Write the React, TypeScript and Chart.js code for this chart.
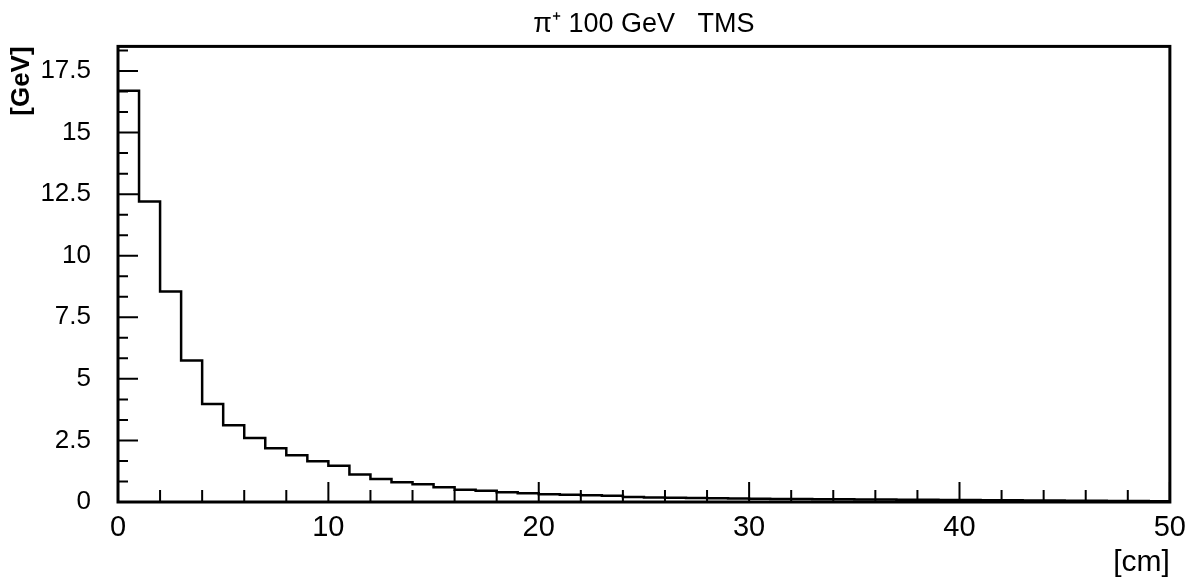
import React, { useEffect, useRef } from "react";
import { Chart, registerables } from "chart.js";

Chart.register(...registerables);

// Bin start positions in cm (bins are 1 cm wide)
const binStarts = [
  0, 1, 2, 3, 4, 5, 6, 7, 8, 9,
  10, 11, 12, 13, 14, 15, 16, 17, 18, 19,
  20, 21, 22, 23, 24, 25, 26, 27, 28, 29,
  30, 31, 32, 33, 34, 35, 36, 37, 38, 39,
  40, 41, 42, 43, 44, 45, 46, 47, 48, 49,
];
// Deposited energy per bin in GeV
const energy = [
  16.7, 12.2, 8.55, 5.75, 3.98, 3.12, 2.6, 2.18, 1.9, 1.65,
  1.47, 1.12, 0.93, 0.8, 0.72, 0.6, 0.5, 0.46, 0.4, 0.36,
  0.31, 0.29, 0.27, 0.25, 0.2, 0.18, 0.17, 0.16, 0.15, 0.14,
  0.13, 0.12, 0.12, 0.11, 0.11, 0.1, 0.1, 0.09, 0.09, 0.08,
  0.08, 0.07, 0.07, 0.06, 0.06, 0.05, 0.05, 0.04, 0.04, 0.03,
];
const binWidth = 1;

const xTicks = [0, 10, 20, 30, 40, 50];
const yTicks = [0, 2.5, 5, 7.5, 10, 12.5, 15, 17.5];
const xMinorStep = 2;
const yMinorStep = 2.5 / 3;

const titleText = "\u03c0\u207a 100 GeV   TMS";
const xTitle = "[cm]";
const yTitle = "[GeV]";

const FONT = "'Liberation Sans', Arial, Helvetica, sans-serif";

const framePlugin = {
  id: "frameAndInnerTicks",
  afterDraw(chart: any) {
    const { ctx, chartArea } = chart;
    const { left, right, top, bottom } = chartArea;
    const xs = chart.scales.x;
    const ys = chart.scales.y;
    ctx.save();
    ctx.strokeStyle = "#000";
    ctx.lineWidth = 3;
    ctx.strokeRect(left, top, right - left, bottom - top);
    ctx.lineWidth = 2;
    ctx.beginPath();
    for (let k = 0; k * xMinorStep <= xs.max + 1e-9; k++) {
      const v = k * xMinorStep;
      const px = xs.getPixelForValue(v);
      const major = xTicks.includes(v);
      const len = major ? 20 : 12;
      ctx.moveTo(px, bottom);
      ctx.lineTo(px, bottom - len);
    }
    for (let k = 0; k * yMinorStep <= ys.max + 1e-9; k++) {
      const v = k * yMinorStep;
      const py = ys.getPixelForValue(v);
      const major = k % 3 === 0;
      const len = major ? 20 : 10;
      ctx.moveTo(left, py);
      ctx.lineTo(left + len, py);
    }
    ctx.stroke();
    ctx.restore();
  },
};

export default function App() {
  const ref = useRef<HTMLCanvasElement | null>(null);

  useEffect(() => {
    if (!ref.current) return;
    const points = binStarts.map((x, i) => ({ x, y: energy[i] }));
    points.push({
      x: binStarts[binStarts.length - 1] + binWidth,
      y: energy[energy.length - 1],
    });

    const chart = new Chart(ref.current, {
      type: "line",
      data: {
        datasets: [
          {
            data: points,
            stepped: "before",
            borderColor: "#000",
            borderWidth: 2.5,
            pointRadius: 0,
            fill: false,
          },
        ],
      },
      options: {
        animation: false,
        responsive: true,
        maintainAspectRatio: false,
        layout: { padding: { left: 0, right: 23, top: 0, bottom: 0 } },
        plugins: {
          legend: { display: false },
          tooltip: { enabled: false },
          title: {
            display: true,
            text: titleText,
            fullSize: false,
            color: "#000",
            font: { family: FONT, size: 27, weight: "normal" },
            padding: { top: 8, bottom: 6 },
          },
        },
        scales: {
          x: {
            type: "linear",
            min: 0,
            max: 50,
            afterBuildTicks: (s: any) => {
              s.ticks = xTicks.map((v) => ({ value: v }));
            },
            afterFit: (s: any) => {
              s.height = 79;
            },
            grid: { display: false, drawTicks: false },
            border: { display: false },
            ticks: {
              color: "#000",
              padding: 9,
              maxRotation: 0,
              font: { family: FONT, size: 29 },
              callback: (v: any) => String(v),
            },
            title: {
              display: true,
              text: xTitle,
              align: "end",
              color: "#000",
              font: { family: FONT, size: 30 },
              padding: { top: 0, bottom: 0 },
            },
          },
          y: {
            type: "linear",
            min: 0,
            max: 18.5,
            afterBuildTicks: (s: any) => {
              s.ticks = yTicks.map((v) => ({ value: v }));
            },
            afterFit: (s: any) => {
              s.width = 118;
            },
            grid: { display: false, drawTicks: false },
            border: { display: false },
            ticks: {
              color: "#000",
              padding: 27,
              font: { family: FONT, size: 26 },
              callback: (v: any) => String(v),
            },
            title: {
              display: true,
              text: yTitle,
              align: "end",
              color: "#000",
              font: { family: FONT, size: 26, weight: "bold" },
              padding: { top: 6, bottom: 0 },
            },
          },
        },
      },
      plugins: [framePlugin],
    });
    return () => chart.destroy();
  }, []);

  return (
    <div
      style={{
        position: "fixed",
        left: 0,
        top: 0,
        width: 1195,
        height: 581,
        background: "#fff",
      }}
    >
      <canvas ref={ref} />
    </div>
  );
}
